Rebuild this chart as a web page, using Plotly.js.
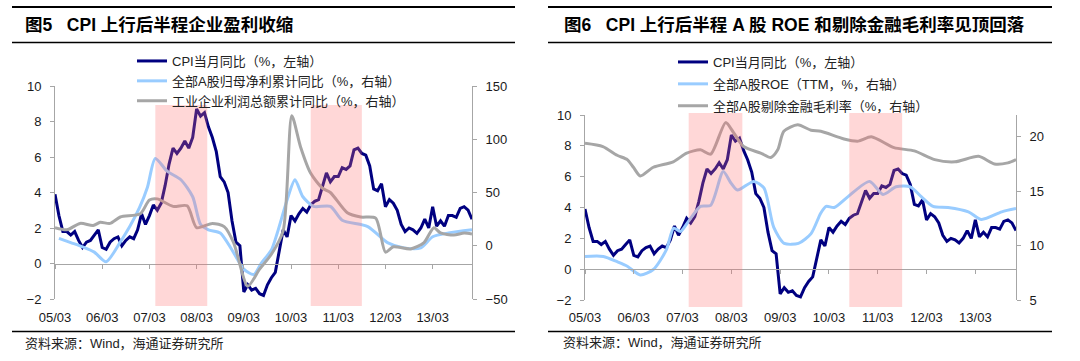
<!DOCTYPE html>
<html><head><meta charset="utf-8">
<script src="https://cdn.plot.ly/plotly-3.0.1.min.js"></script>
<style>html,body{margin:0;padding:0;background:#fff}#chart{width:1080px;height:361px}</style>
</head><body><div id="chart"></div>
<script>
// ---------- data ----------
// x positions are month indices, 0 = first month shown (tick "05/03")
const tickLabels = ['05/03','06/03','07/03','08/03','09/03','10/03','11/03','12/03','13/03'];
const tickIdx = [0,12,24,36,48,60,72,84,96];
const lastIdx = 106;

// CPI YoY, monthly (%)
const cpi = [3.9,
 2.7,1.8,1.8,1.6,1.8,1.3,0.9,1.2,1.3,1.6,
 1.9,0.9,0.8,1.2,1.4,1.5,1.0,1.3,1.5,1.4,1.9,2.8,
 2.2,2.7,3.3,3.0,3.4,4.4,5.6,6.5,6.2,6.5,6.9,6.5,
 7.1,8.7,8.3,8.5,7.7,7.1,6.3,4.9,4.6,4.0,2.4,1.2,
 1.0,-1.6,-1.2,-1.5,-1.4,-1.7,-1.8,-1.2,-0.8,-0.5,0.6,1.9,
 1.5,2.7,2.4,2.8,3.1,2.9,3.3,3.5,3.6,4.4,5.1,4.6,
 4.9,4.9,5.4,5.3,5.5,6.4,6.5,6.2,6.1,5.5,4.2,4.1,
 4.5,3.2,3.6,3.4,3.0,2.2,1.8,2.0,1.9,1.7,2.0,2.5,
 2.0,3.2,2.1,2.4,2.1,2.7,2.7,2.6,3.1,3.2,3.0,2.5];

// 全部A股归母净利累计同比 (right axis, fig 5)
const npX = [1,4,7,10,13,16.5,19,21.5,23.5,25.5,28.5,32,35,37,39,42,45,48,50.5,52.5,55,56.5,59,61,63,65.7,70,73,79.5,84.5,88.7,93,96,100,106];
const npY = [7,3,-1,-6,-15,3,18,36,55,82,70,62,46,20,15,12,-4,-22,-27,-16,-4,12,43,62,46,37,37,24,18,3,-2,-2,8.5,12,15];

// 工业企业利润总额累计同比 (right axis, fig 5)
const ipX = [0,3,6.4,9.7,11.5,14,16.6,21.7,24,26,30,33.6,36,40,43,45.4,49,52,55,58,60.2,62.4,65,68,70,74.3,77.7,81.5,84,86,90.4,93.8,96.3,98,101.4,104,106];
const ipY = [17,15,21,19,22,21,27,30,43,44,37,37.5,17,21,18,3,-38,-22,-8,14,122,93,68,54,50,31,27,26,-6,-1,-3,3,17,12,10,12,11];

// 全部A股ROE (TTM) (right axis, fig 6)
const roeX = [0,4.5,8,10.4,13.6,16.8,20,21.8,23.5,25.4,28.4,30.9,34,35.8,37.5,41.5,44,46.4,49,52.5,55.6,58,59.3,61.3,64.7,70,73.3,76.5,80,82.7,85.6,89.3,94.3,97.5,102.5,106];
const roeY = [9.0,9.0,8.5,8.1,7.3,7.8,9.6,11.6,11.3,12.2,13.6,13.7,16.8,15.8,15.1,15.9,15.3,11.7,10.2,10.2,11.1,13.0,13.6,13.5,14.5,15.9,14.7,15.4,15.4,14.5,13.6,13.5,13.1,12.4,13.1,13.4];

// 全部A股剔除金融毛利率 (right axis, fig 6)
const gmX = [0,4.4,7.9,10.4,11.9,13.6,16.8,21.7,25,28.4,30.9,34.6,36.5,39,43.2,45.7,47.4,48.9,52.3,55.6,58,63.7,67.2,70.4,76,81,86,91,96.8,100.7,104,106];
const gmY = [19.4,19.1,18.3,17.9,17.2,16.4,17.2,17.7,18.5,18.8,18.4,21.3,20.4,19.1,18.5,18.1,18.8,20.5,21.1,20.6,20.5,19.8,19.6,20.0,19.0,18.7,17.9,17.7,18.2,17.5,17.6,17.9];

// shaded periods (month indices)
const shaded = [[25.5,38.7],[65,78]];

const names5 = ['CPI当月同比（%，左轴）','全部A股归母净利累计同比（%，右轴）','工业企业利润总额累计同比（%，右轴）'];
const names6 = ['CPI当月同比（%，左轴）','全部A股ROE（TTM，%，右轴）','全部A股剔除金融毛利率（%，右轴）'];
const titles = ['图5\u00a0\u00a0\u00a0CPI 上行后半程企业盈利收缩','图6\u00a0\u00a0\u00a0CPI 上行后半程 A 股 ROE 和剔除金融毛利率见顶回落'];
const source = '资料来源：Wind，海通证券研究所';

// ---------- layout helpers ----------
const W = 1080, H = 361;
const FONT = 'Liberation Sans, Arial, Noto Sans CJK SC, sans-serif';
const px = v => v / W, py = v => 1 - v / H;
const NAVY = '#000080', LBLUE = '#99CCFF', GRAY = '#A6A6A6', AX = '#A6A6A6';
const cpiX = cpi.map((_, i) => i);

const yd1 = [py(299), py(86)], yd3 = [py(300), py(115)];
const zeroPos = (d, lo, hi) => d[0] + (d[1] - d[0]) * (0 - lo) / (hi - lo);

function line(color, legend, name, x, y, xa, ya, smooth) {
  return {type:'scatter', mode:'lines', x, y, xaxis:xa, yaxis:ya, name, legend,
    legendgroup: name + xa,
    line:{color, width:3, shape: smooth ? 'spline' : 'linear', smoothing: 0.7}};
}
const traces = [
  line(NAVY, 'legend', names5[0], cpiX, cpi, 'x', 'y', false),
  line(LBLUE, 'legend', names5[1], npX, npY, 'x', 'y2', true),
  line(GRAY, 'legend', names5[2], ipX, ipY, 'x', 'y2', true),
  line(NAVY, 'legend2', names6[0], cpiX, cpi, 'x2', 'y3', false),
  line(LBLUE, 'legend2', names6[1], roeX, roeY, 'x2', 'y4', true),
  line(GRAY, 'legend2', names6[2], gmX, gmY, 'x2', 'y4', true)
];

const tickFont = {family: FONT, size: 13, color: '#1a1a1a'};
function xAxis(dom, pos, standoff) {
  return {domain: dom, range: [0, lastIdx], anchor: 'free', position: pos,
    tickvals: tickIdx, ticktext: tickLabels, ticks: 'outside', ticklen: 4, tickcolor: AX,
    showline: true, linecolor: AX, linewidth: 1, showgrid: false, zeroline: false,
    tickfont: tickFont, ticklabelstandoff: standoff, fixedrange: true};
}
function yAxis(dom, range, extra) {
  return Object.assign({domain: dom, range, ticks: 'outside', ticklen: 4, tickcolor: AX,
    showline: true, linecolor: AX, linewidth: 1, showgrid: false, zeroline: false,
    tickfont: tickFont, ticklabelstandoff: 6, fixedrange: true}, extra);
}

const shapes = [];
shaded.forEach(s => {
  shapes.push({type:'rect', xref:'x', yref:'paper', x0:s[0], x1:s[1], y0:py(306), y1:py(105),
    fillcolor:'rgba(255,110,110,0.28)', line:{width:0}, layer:'above'});
  shapes.push({type:'rect', xref:'x2', yref:'paper', x0:s[0], x1:s[1], y0:py(307), y1:py(113),
    fillcolor:'rgba(255,110,110,0.28)', line:{width:0}, layer:'above'});
});
[[12,515],[548,1052]].forEach(r => {
  shapes.push({type:'line', xref:'paper', yref:'paper', x0:px(r[0]), x1:px(r[1]), y0:py(7), y1:py(7), line:{color:'#000', width:2}});
  shapes.push({type:'line', xref:'paper', yref:'paper', x0:px(r[0]), x1:px(r[1]), y0:py(42.5), y1:py(42.5), line:{color:'#000', width:1.5}});
  shapes.push({type:'line', xref:'paper', yref:'paper', x0:px(r[0]), x1:px(r[1]), y0:py(331.5), y1:py(331.5), line:{color:'#000', width:1.5}});
});

const annotations = [
  {text:'<b>'+titles[0]+'</b>', x:px(23), y:py(25), xref:'paper', yref:'paper', xanchor:'left', yanchor:'middle', showarrow:false, font:{family:FONT, size:17.5, color:'#000'}},
  {text:'<b>'+titles[1]+'</b>', x:px(562), y:py(25), xref:'paper', yref:'paper', xanchor:'left', yanchor:'middle', showarrow:false, font:{family:FONT, size:17.5, color:'#000'}},
  {text:source, x:px(23), y:py(343), xref:'paper', yref:'paper', xanchor:'left', yanchor:'middle', showarrow:false, font:{family:FONT, size:13, color:'#222'}},
  {text:source, x:px(561), y:py(342), xref:'paper', yref:'paper', xanchor:'left', yanchor:'middle', showarrow:false, font:{family:FONT, size:13, color:'#222'}}
];

const legFont = {family: FONT, size: 13, color: '#222'};
const layout = {
  width: W, height: H, margin: {l:0, r:0, t:0, b:0},
  paper_bgcolor: '#fff', plot_bgcolor: 'rgba(0,0,0,0)', showlegend: true,
  xaxis: xAxis([px(55), px(472)], zeroPos(yd1, -2, 10), 38),
  yaxis: yAxis(yd1, [-2, 10], {dtick: 2, anchor: 'x'}),
  yaxis2: yAxis(yd1, [-50, 150], {dtick: 50, overlaying: 'y', side: 'right', anchor: 'x'}),
  xaxis2: xAxis([px(585), px(1016)], zeroPos(yd3, -2, 10), 32),
  yaxis3: yAxis(yd3, [-2, 10], {dtick: 2, anchor: 'x2'}),
  yaxis4: yAxis(yd3, [5, 22], {tickvals: [5,10,15,20], overlaying: 'y3', side: 'right', anchor: 'x2'}),
  legend: {x: px(132), y: py(46), xanchor: 'left', yanchor: 'top', bgcolor: 'rgba(0,0,0,0)',
    font: legFont, tracegroupgap: 0, itemclick: false},
  legend2: {x: px(673), y: py(47), xanchor: 'left', yanchor: 'top', bgcolor: 'rgba(0,0,0,0)',
    font: legFont, tracegroupgap: 2, itemclick: false},
  shapes, annotations
};
Plotly.newPlot('chart', traces, layout, {staticPlot: true, displayModeBar: false});
</script></body></html>
